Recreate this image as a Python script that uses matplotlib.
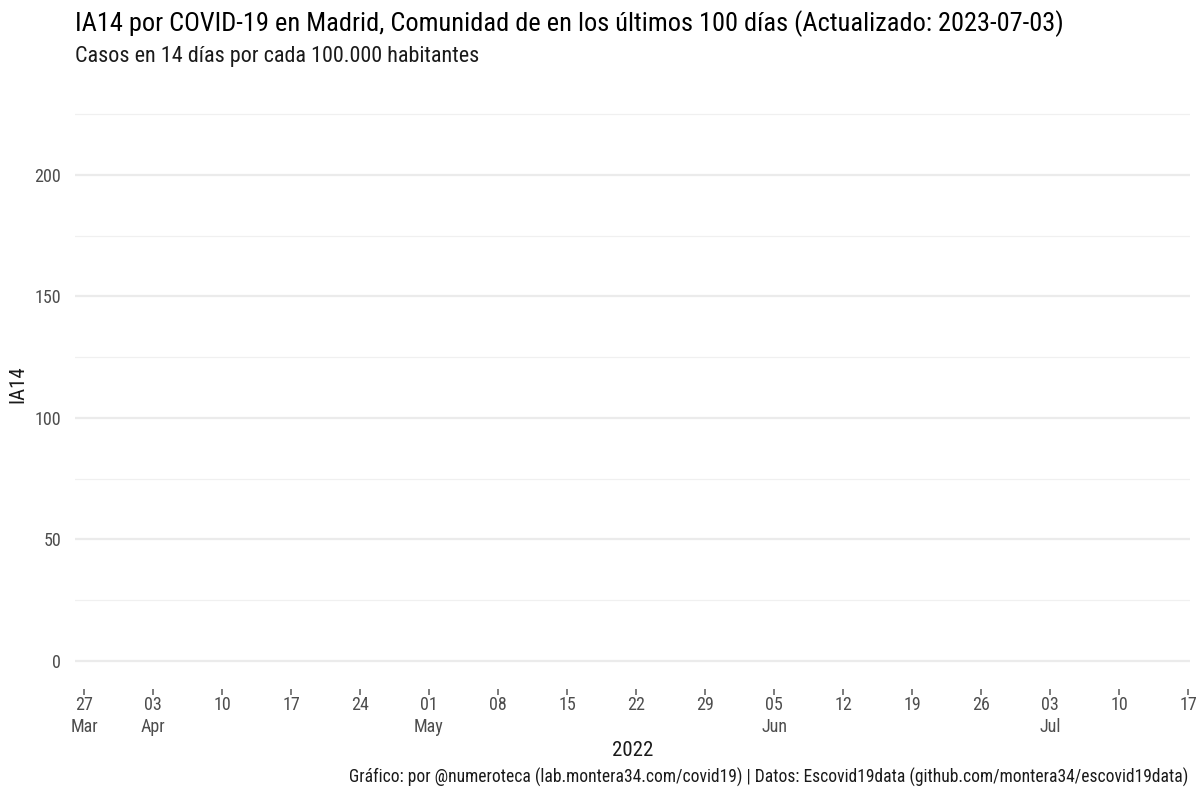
import matplotlib
matplotlib.use("Agg")
import matplotlib.pyplot as plt
import matplotlib.dates as mdates
from matplotlib import font_manager
import pandas as pd

# no data in the last 100 days for this region: the chart is empty
fechas = []
ia14 = []

tick_dates = pd.date_range("2022-03-27", "2022-07-17", freq="7D")
tick_labels = ["27\nMar", "03\nApr", "10", "17", "24", "01\nMay", "08", "15", "22",
               "29", "05\nJun", "12", "19", "26", "03\nJul", "10", "17"]
y_major = [0, 50, 100, 150, 200]
y_minor = [25, 75, 125, 175, 225]

names = {f.name for f in font_manager.fontManager.ttflist}
fam = [f for f in ["Roboto Condensed", "Roboto", "DejaVu Sans"] if f in names]
plt.rcParams["font.family"] = fam

W, H = 1200, 800
fig = plt.figure(figsize=(12, 8), dpi=100)
left, right, top, bottom = 75, 1190, 80, 689
ax = fig.add_axes([left / W, 1 - bottom / H, (right - left) / W, (bottom - top) / H])

ax.plot(fechas, ia14, color="#c0392b")

x0 = mdates.date2num(pd.Timestamp("2022-03-27")) - 0.91
x1 = mdates.date2num(pd.Timestamp("2022-07-17")) + 0.2
ax.set_xlim(x0, x1)
ax.set_ylim(-11.5, 239)

ax.set_xticks(mdates.date2num(tick_dates))
ax.set_xticklabels(tick_labels, linespacing=1.3)
ax.set_yticks(y_major)
ax.set_yticks(y_minor, minor=True)

for s in ax.spines.values():
    s.set_visible(False)
ax.grid(axis="y", which="major", color="#ebebeb", linewidth=1.6)
ax.grid(axis="y", which="minor", color="#f0f0f0", linewidth=0.9)
ax.grid(axis="x", visible=False)
ax.set_axisbelow(True)
ax.tick_params(axis="x", which="major", length=4, width=1.2, color="#666666",
               labelsize=13, labelcolor="#4d4d4d", pad=1.2)
ax.tick_params(axis="y", which="both", length=0, labelsize=13,
               labelcolor="#4d4d4d", pad=10)

ax.set_xlabel("2022", fontsize=15, color="#1a1a1a", labelpad=3)
ax.set_ylabel("IA14", fontsize=15, color="#1a1a1a", labelpad=5)

fig.text(left / W, 1 - 31 / H,
         "IA14 por COVID-19 en Madrid, Comunidad de en los últimos 100 días (Actualizado: 2023-07-03)",
         fontsize=19, color="#000000", ha="left", va="baseline")
fig.text(left / W, 1 - 62 / H, "Casos en 14 días por cada 100.000 habitantes",
         fontsize=15.9, color="#1a1a1a", ha="left", va="baseline")
fig.text(1188 / W, 1 - 783 / H,
         "Gráfico: por @numeroteca (lab.montera34.com/covid19) | Datos: Escovid19data (github.com/montera34/escovid19data)",
         fontsize=12.65, color="#1a1a1a", ha="right", va="baseline")

fig.savefig("out.png", dpi=100, facecolor="white")
